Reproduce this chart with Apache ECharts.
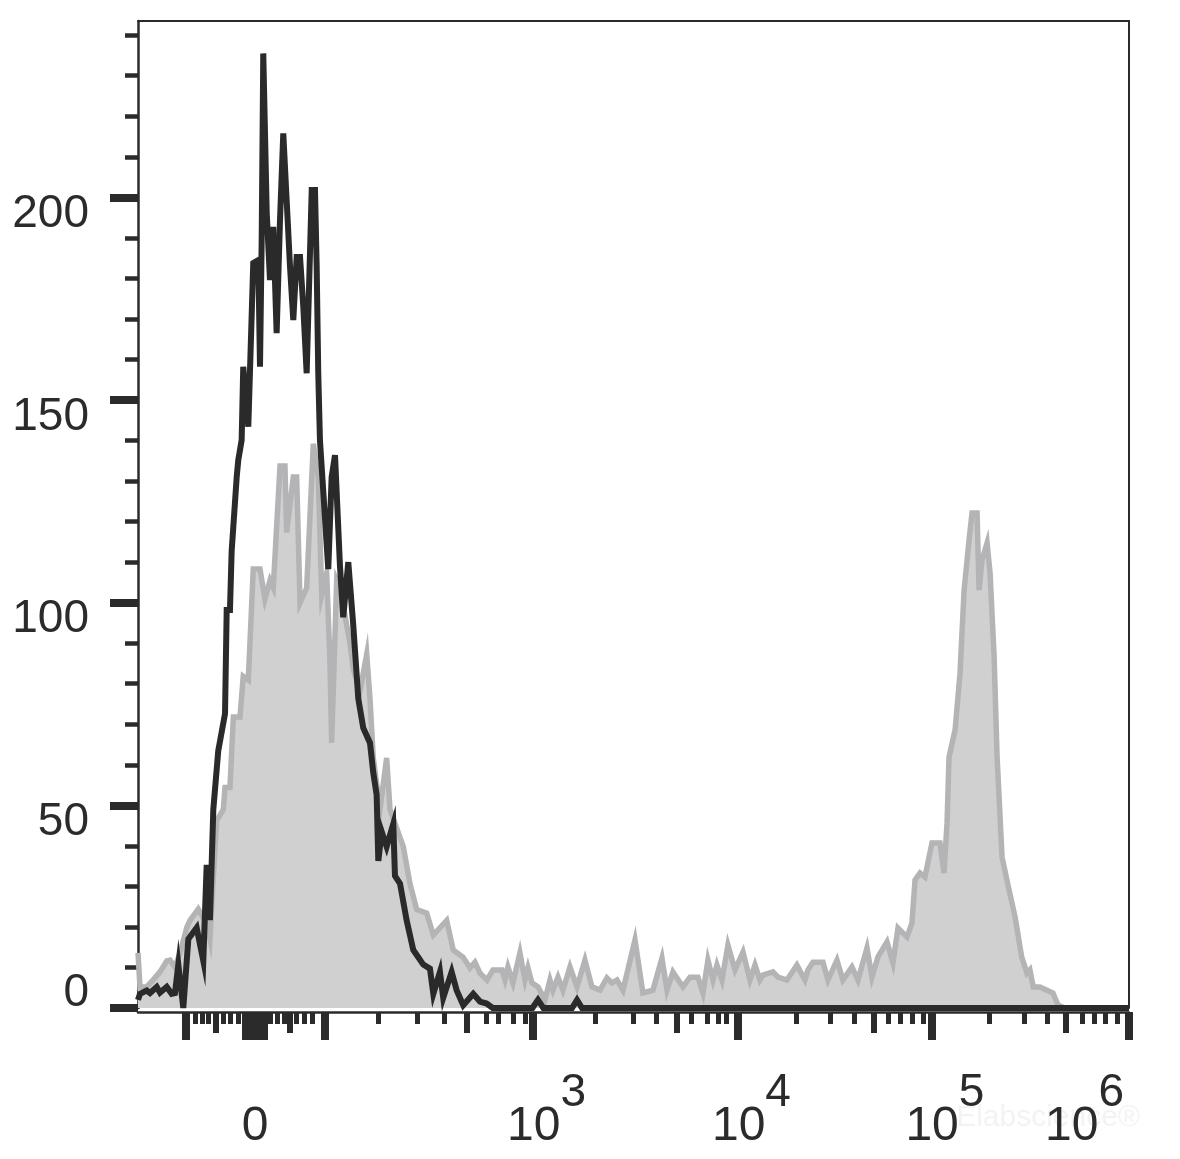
<!DOCTYPE html>
<html><head><meta charset="utf-8">
<script src="https://cdn.jsdelivr.net/npm/echarts@6/dist/echarts.min.js"></script>
<style>html,body{margin:0;padding:0;background:#fff}#c{width:1180px;height:1159px}</style>
</head><body><div id="c"></div>
<script>
// ---- data (x in display channel units 0..1000, y = event count) ----
const yMax = 243.5;
const yMajorTicks = [0, 50, 100, 150, 200];
const yMinorTicks = [10,20,30,40,60,70,80,90,110,120,130,140,160,170,180,190,210,220,230,240];

const xLabelPos = [118.1, 398.6, 605.4, 800.6, 1000];
const xLabelExp = ['', '3', '4', '5', '6'];

const xLongTicks = [48.4, 109.0, 113.5, 118.1, 122.6, 127.1, 188.2, 398.6, 605.4, 800.6, 1000];
const xMidTicks = [78.2, 153.4, 332.0, 543.4, 742.1, 936.4];
const xShortTicks = [58.0, 64.6, 70.6, 85.8, 92.8, 100.9, 133.7, 140.8, 147.3, 159.9, 167.5, 175.6,
  242.7, 281.5, 309.3, 351.1, 363.7, 378.9, 391.0,
  461.6, 500.0, 523.2, 558.5, 574.6, 585.7, 593.8,
  664.4, 698.2, 722.9, 757.2, 769.4, 781.5, 792.6,
  859.2, 894.5, 917.7, 953.0, 964.6, 975.7, 987.8];

const blackData = [[0,2.0],[2.0,3.5],[8.8,4.3],[12.1,3.7],[18.9,5.2],[22.2,3.8],[29.0,5.2],[34.0,3.5],[37.3,3.7],[40.7,10.7],[45.7,0],[50.8,17.0],[59.2,19.8],[65.9,11.6],[69.3,35.3],[72.6,21.7],[76.0,49.0],[81.0,63.5],[87.8,72.6],[89.5,98.2],[92.8,98.2],[94.5,112.7],[99.6,131.0],[101.2,135.2],[104.6,140.1],[106.2,158.2],[111.3,143.4],[116.3,183.8],[121.4,184.5],[123.1,158.2],[124.8,189.4],[126.4,235.5],[129.9,196.1],[133.2,179.6],[136.5,192.7],[139.9,166.5],[143.3,194.4],[146.6,215.8],[150.0,199.3],[153.4,182.9],[156.7,169.7],[160.1,185.3],[163.5,185.3],[166.8,173.0],[170.2,156.6],[175.3,201.8],[178.6,201.8],[180.3,182.9],[181.9,156.6],[183.6,140.1],[192.0,108.3],[195.4,131.0],[198.8,136.4],[203.8,109.1],[207.1,96.4],[212.2,110.0],[217.2,94.5],[222.3,76.3],[227.3,69.1],[234.1,65.4],[237.4,58.1],[240.8,52.6],[242.5,36.3],[245.9,43.5],[250.9,39.8],[257.6,45.4],[259.3,32.6],[264.4,30.7],[271.1,21.6],[277.8,14.3],[287.9,10.7],[294.6,9.7],[298.0,3.5],[304.7,8.9],[308.0,2.5],[316.5,8.9],[321.6,4.3],[328.2,0.7],[338.3,3.5],[345.1,1.6],[351.8,1.1],[358,0],[398,0],[403.6,2.0],[409,0],[438,0],[443,2.0],[448,0],[1000,0]];

const greyData = [[0,13.6],[2.0,5.2],[8.8,5.2],[15.1,6.9],[22.2,8.9],[29.0,11.6],[32.3,11.8],[37.3,10.1],[42.4,13.6],[49.4,20.0],[52.5,21.6],[60.8,24.4],[69.3,20.7],[72.6,17.0],[74.4,25.3],[79.4,46.2],[86.1,49.0],[87.8,54.4],[92.8,54.4],[96.2,71.8],[102.9,71.8],[106.2,81.8],[111.3,80.9],[116.3,108.3],[123.1,108.3],[128.1,100.9],[133.2,105.5],[136.5,103.7],[143.3,133.7],[148.3,133.7],[150.0,117.3],[156.7,131.0],[160.1,131.0],[163.5,100.0],[170.2,103.6],[176.9,139.2],[181.9,131.0],[185.4,101.9],[190.4,107.3],[193.7,85.4],[195.4,65.4],[200.5,105.5],[203.8,103.6],[213.9,90.0],[217.2,83.6],[224.0,78.2],[230.8,87.3],[234.1,76.3],[237.4,61.7],[244.2,49.0],[250.9,61.7],[254.3,49.0],[267.7,39.8],[274.4,30.7],[281.2,24.3],[291.3,23.4],[298.0,18.0],[304.7,19.8],[311.5,21.6],[318.1,14.3],[328.2,12.5],[335.0,9.9],[340.0,11.3],[345.1,8.6],[352.1,6.9],[358.2,9.4],[367.3,9.4],[370.3,7.0],[373.3,10.1],[378.4,6.2],[385.4,13.6],[390.5,6.9],[393.5,9.9],[397.5,6.2],[403.6,5.2],[410.7,2.0],[415.7,6.9],[418.7,4.4],[423.8,7.6],[428.8,4.4],[435.9,10.1],[443.0,5.2],[451.0,11.8],[458.1,5.2],[466.2,4.4],[473.2,7.4],[478.3,6.2],[483.3,6.9],[489.4,4.4],[501.5,16.8],[509.5,3.7],[519.6,4.4],[528.7,12.3],[533.8,4.4],[539.8,8.9],[549.9,5.2],[557.0,7.6],[565.0,7.6],[570.1,3.7],[575.1,11.8],[580.2,6.9],[584.2,10.6],[589.3,6.9],[595.3,15.5],[602.4,9.4],[610.5,13.8],[617.5,6.9],[622.6,10.6],[627.6,6.9],[630.6,8.1],[640.7,8.9],[645.8,7.6],[654.8,6.9],[664.9,10.6],[673.0,6.9],[676.0,9.4],[681.1,11.3],[691.2,11.3],[696.2,6.9],[705.3,11.8],[711.3,6.9],[720.4,10.1],[726.5,6.9],[735.6,14.8],[740.6,7.6],[746.7,12.6],[755.8,16.3],[761.8,11.1],[766.9,19.7],[776.0,17.5],[781.0,21.0],[784.1,31.6],[789.1,33.3],[794.1,32.3],[801.2,40.7],[809.3,40.7],[813.3,33.3],[816.4,45.6],[818.4,61.9],[824.5,68.6],[829.5,82.6],[833.6,103.1],[838.6,115.4],[841.6,122.1],[846.7,122.1],[848.7,103.1],[851.7,110.5],[856.8,114.7],[859.8,107.3],[863.9,86.6],[866.9,61.9],[871.9,37.2],[879.0,29.1],[885.1,22.4],[891.7,12.6],[897.0,8.6],[900.0,9.4],[903.4,5.2],[910.1,5.2],[917.2,4.4],[923.3,3.7],[928.3,0.7],[935.4,0],[1000,0]];

// ---- chart ----
const ink = '#2b2b2b';
const font = "'Liberation Sans', Arial, sans-serif";
const chart = echarts.init(document.getElementById('c'), null, {renderer: 'canvas'});

function xAxisBase(extra) {
  return Object.assign({
    type: 'value', min: 0, max: 1000, position: 'bottom', offset: 4,
    splitLine: {show: false},
    axisLine: {show: false, onZero: false},
    axisLabel: {show: false},
    axisTick: {show: false}
  }, extra);
}
function yAxisBase(extra) {
  return Object.assign({
    type: 'value', min: 0, max: yMax, position: 'left',
    splitLine: {show: false},
    axisLine: {show: false, onZero: false},
    axisLabel: {show: false},
    axisTick: {show: false}
  }, extra);
}

const option = {
  animation: false,
  backgroundColor: '#ffffff',
  grid: {left: 138, right: 51, top: 21, bottom: 151, containLabel: false, outerBoundsMode: 'none'},
  xAxis: [
    xAxisBase({
      axisLine: {show: true, onZero: false, lineStyle: {color: ink, width: 2.5}},
      axisTick: {show: true, inside: false, customValues: xLongTicks, length: 28, lineStyle: {color: ink, width: 8}},
      axisLabel: {
        show: true, customValues: xLabelPos, margin: 115, verticalAlign: 'middle',
        color: ink, fontFamily: font, fontSize: 48,
        formatter: function (v) {
          let i = 0;
          for (let k = 0; k < xLabelPos.length; k++) if (Math.abs(xLabelPos[k] - v) < 0.5) i = k;
          const e = xLabelExp[i];
          if (!e) return '{z|0}';
          if (i === xLabelPos.length - 1) return '{b|10}{el|' + e + '}';
          return '{bp|10}{e|' + e + '}';
        },
        rich: {
          z: {fontSize: 48, fontFamily: font, color: ink, verticalAlign: 'middle'},
          b: {fontSize: 48, fontFamily: font, color: ink, verticalAlign: 'middle'},
          bp: {fontSize: 48, fontFamily: font, color: ink, verticalAlign: 'middle', padding: [0, 0, 0, 27]},
          e: {fontSize: 46, fontFamily: font, color: ink, verticalAlign: 'middle', padding: [0, 0, 68, 0]},
          el: {fontSize: 46, fontFamily: font, color: ink, verticalAlign: 'middle', padding: [0, 89, 68, 0]}
        }
      }
    }),
    xAxisBase({axisTick: {show: true, inside: false, customValues: xMidTicks, length: 21, lineStyle: {color: ink, width: 6}}}),
    xAxisBase({axisTick: {show: true, inside: false, customValues: xShortTicks, length: 12, lineStyle: {color: ink, width: 5}}}),
    xAxisBase({position: 'top', offset: 0, axisLine: {show: true, onZero: false, lineStyle: {color: ink, width: 2}}})
  ],
  yAxis: [
    yAxisBase({
      axisLine: {show: true, onZero: false, lineStyle: {color: ink, width: 2.5}},
      axisTick: {show: true, inside: false, customValues: yMajorTicks, length: 28, lineStyle: {color: ink, width: 8}},
      axisLabel: {
        show: true, customValues: yMajorTicks, margin: 49, color: ink, fontFamily: font, fontSize: 46,
        formatter: function (v) { return v === 0 ? '{hi|0}' : '{lo|' + v + '}'; },
        rich: {
          lo: {fontSize: 46, fontFamily: font, color: ink, padding: [34, 0, 0, 0]},
          hi: {fontSize: 46, fontFamily: font, color: ink, padding: [0, 0, 30, 0]}
        }
      }
    }),
    yAxisBase({axisTick: {show: true, inside: false, customValues: yMinorTicks, length: 13, lineStyle: {color: ink, width: 4.5}}}),
    yAxisBase({position: 'right', axisLine: {show: true, onZero: false, lineStyle: {color: ink, width: 2}}})
  ],
  series: [
    {
      type: 'line', name: 'control', data: greyData, xAxisIndex: 0, yAxisIndex: 0,
      showSymbol: false, symbol: 'none', clip: false, z: 2,
      lineStyle: {color: '#b4b4b6', width: 5.5, join: 'miter'},
      areaStyle: {color: '#d0d0d0', opacity: 1}
    },
    {
      type: 'line', name: 'stained', data: blackData, xAxisIndex: 0, yAxisIndex: 0,
      showSymbol: false, symbol: 'none', clip: false, z: 3,
      lineStyle: {color: '#2a2a2a', width: 6, join: 'miter'}
    }
  ],
  graphic: [{
    type: 'text', right: 40, top: 1103, silent: true,
    style: {text: 'Elabscience®', fill: '#f3f3f3', font: "30px 'Liberation Sans', Arial, sans-serif"}
  }]
};
chart.setOption(option);
</script>
</body></html>
